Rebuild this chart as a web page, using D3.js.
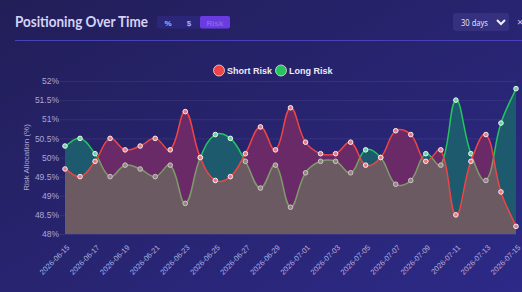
<!DOCTYPE html>
<html><head><meta charset="utf-8">
<script src="https://cdn.jsdelivr.net/npm/d3@7"></script>
<style>
html,body{margin:0;padding:0;overflow:hidden;background:#25215f;}
svg{display:block;}
</style></head>
<body>
<svg id="c" width="522" height="292"></svg>
<script>
const dates = ["2026-06-15","2026-06-16","2026-06-17","2026-06-18","2026-06-19","2026-06-20","2026-06-21","2026-06-22","2026-06-23","2026-06-24","2026-06-25","2026-06-26","2026-06-27","2026-06-28","2026-06-29","2026-06-30","2026-07-01","2026-07-02","2026-07-03","2026-07-04","2026-07-05","2026-07-06","2026-07-07","2026-07-08","2026-07-09","2026-07-10","2026-07-11","2026-07-12","2026-07-13","2026-07-14","2026-07-15"];
const shortRisk = [49.7,49.5,49.9,50.5,50.2,50.3,50.5,50.2,51.2,50.0,49.4,49.5,50.1,50.8,50.2,51.3,50.4,50.1,50.1,50.4,49.8,50.0,50.7,50.6,49.9,50.2,48.5,49.9,50.6,49.1,48.2];
const longRisk  = [50.3,50.5,50.1,49.5,49.8,49.7,49.5,49.8,48.8,50.0,50.6,50.5,49.9,49.2,49.8,48.7,49.6,49.9,49.9,49.6,50.2,50.0,49.3,49.4,50.1,49.8,51.5,50.1,49.4,50.9,51.8];
const yTicks = [48,48.5,49,49.5,50,50.5,51,51.5,52];
const xTickLabels = dates.filter((d,i)=>i%2===0);
const seriesNames = ["Short Risk","Long Risk"];
const seriesColors = ["#ef4444","#22c55e"];
const toggles = ["%","$","Risk"];

(function(){
const svg = d3.select("#c");
const W=522,H=292;
const defs = svg.append("defs");
const bg = defs.append("linearGradient").attr("id","bg").attr("x1","0").attr("y1","0").attr("x2","1").attr("y2","1");
bg.append("stop").attr("offset","0").attr("stop-color","#221e58");
bg.append("stop").attr("offset","1").attr("stop-color","#2d2a88");
svg.append("rect").attr("width",W).attr("height",H).attr("fill","url(#bg)");

// header
svg.append("text").attr("x",15).attr("y",27).text("Positioning Over Time")
  .attr("font-family","Lato, 'Open Sans', sans-serif").attr("font-weight",700).attr("font-size",15)
  .attr("textLength",133).attr("lengthAdjust","spacingAndGlyphs")
  .attr("fill","#d6d2f5");
svg.append("rect").attr("x",157).attr("y",16).attr("width",73).attr("height",12.5).attr("rx",2).attr("fill","#2b2678");
svg.append("rect").attr("x",200).attr("y",16).attr("width",30).attr("height",12.5).attr("rx",2).attr("fill","#6a3be0");
const tgX=[168,189,215];
toggles.forEach((t,i)=>{
  svg.append("text").attr("x",tgX[i]).attr("y",25.5).attr("text-anchor","middle").text(t)
    .attr("font-family","'Liberation Sans', Arial, sans-serif").attr("font-size",8).attr("font-weight",700)
    .attr("fill", i===2?"#8466ea":"#b4aee6");
});
svg.append("rect").attr("x",453).attr("y",13).attr("width",56).attr("height",18).attr("rx",3).attr("fill","#36317f");
svg.append("text").attr("x",461).attr("y",25.5).text("30 days").attr("font-family","'Open Sans', sans-serif").attr("font-size",9)
  .attr("textLength",27).attr("lengthAdjust","spacingAndGlyphs").attr("fill","#e8e6fa");
svg.append("path").attr("d","M497,20 L501,24 L505,20").attr("fill","none").attr("stroke","#f0eefc").attr("stroke-width",2);
svg.append("text").attr("x",517).attr("y",26).text("×").attr("font-family","'Open Sans', sans-serif").attr("font-size",11).attr("fill","#c8c4f0");
svg.append("line").attr("x1",15).attr("x2",W).attr("y1",40.5).attr("y2",40.5).attr("stroke","#4842b8").attr("stroke-width",1);

// scales
const x = d3.scalePoint().domain(dates).range([65,516]);
const y = d3.scaleLinear().domain([48,52]).range([234,81]);
const yTop=81,yBot=234;

// grid
svg.append("g").selectAll("line").data(yTicks).join("line")
  .attr("x1",60).attr("x2",516).attr("y1",d=>y(d)+0.5).attr("y2",d=>y(d)+0.5)
  .attr("stroke","rgba(255,255,255,0.07)");

// y axis
const yAxis = svg.append("g").attr("transform","translate(59,0)")
  .call(d3.axisLeft(y).tickValues(yTicks).tickSize(0).tickPadding(0).tickFormat(d=>d+"%"));
yAxis.select(".domain").remove();
yAxis.selectAll("text").attr("font-family","'Liberation Sans', Arial, sans-serif").attr("font-size",8.5).attr("fill","#aba7d8");
svg.append("text").attr("transform","translate(29,157.5) rotate(-90)").attr("text-anchor","middle")
  .text("Risk Allocation (%)").attr("font-family","'Liberation Sans', Arial, sans-serif").attr("font-size",8).attr("fill","#aba7d8");

// x axis
const xAxis = svg.append("g").attr("transform",`translate(0,${yBot})`)
  .call(d3.axisBottom(x).tickValues(xTickLabels).tickSize(0).tickPadding(0));
xAxis.select(".domain").remove();
xAxis.selectAll("text").attr("font-family","'Liberation Sans', Arial, sans-serif").attr("font-size",7.5).attr("fill","#b3afdc")
  .attr("text-anchor","end").attr("y",0).attr("dy","0").attr("transform","translate(4.5,14) rotate(-45)");

// spline (Chart.js-like, tension 0.4)
function spline(pts,t){
  const cps = pts.map((p,i)=>{
    const pr = pts[i-1]||p, nx = pts[i+1]||p;
    const d01=Math.hypot(p[0]-pr[0],p[1]-pr[1]), d12=Math.hypot(nx[0]-p[0],nx[1]-p[1]);
    let s01=d01/(d01+d12), s12=d12/(d01+d12);
    if(!isFinite(s01)) s01=0; if(!isFinite(s12)) s12=0;
    const fa=t*s01, fb=t*s12;
    const cap=v=>Math.max(yTop,Math.min(yBot,v));
    return {p:[p[0]-fa*(nx[0]-pr[0]), cap(p[1]-fa*(nx[1]-pr[1]))], n:[p[0]+fb*(nx[0]-pr[0]), cap(p[1]+fb*(nx[1]-pr[1]))]};
  });
  let d="M"+pts[0].join(",");
  for(let i=1;i<pts.length;i++) d+="C"+cps[i-1].n.join(",")+" "+cps[i].p.join(",")+" "+pts[i].join(",");
  return d;
}
const sPts = dates.map((d,i)=>[x(d),y(shortRisk[i])]);
const lPts = dates.map((d,i)=>[x(d),y(longRisk[i])]);
const sLine = spline(sPts,0.4), lLine = spline(lPts,0.4);
const close = `L${x(dates[dates.length-1])},${yBot}L${x(dates[0])},${yBot}Z`;
defs.append("clipPath").attr("id","clipS").append("path").attr("d",sLine+close);
const mk = defs.append("mask").attr("id","outS").attr("maskUnits","userSpaceOnUse").attr("x",0).attr("y",0).attr("width",W).attr("height",H);
mk.append("rect").attr("width",W).attr("height",H).attr("fill","#fff");
mk.append("path").attr("d",sLine+close).attr("fill","#000");

svg.append("path").attr("d",sLine+close).attr("fill","#6a2a68");
svg.append("path").attr("d",lLine+close).attr("fill","#1d5a6e");
svg.append("path").attr("d",lLine+close).attr("fill","#6b5a62").attr("clip-path","url(#clipS)");

// long line: bright outside short area, muted inside (covered by short fill)
svg.append("path").attr("d",lLine).attr("fill","none").attr("stroke",seriesColors[1]).attr("stroke-width",1.5).attr("mask","url(#outS)");
svg.append("path").attr("d",lLine).attr("fill","none").attr("stroke","#7f9a6a").attr("stroke-width",1.5).attr("clip-path","url(#clipS)");
const gOut = svg.append("g").attr("mask","url(#outS)");
gOut.selectAll("circle").data(lPts).join("circle")
  .attr("cx",d=>d[0]).attr("cy",d=>d[1]).attr("r",2.3)
  .attr("fill","#6fd0a8").attr("stroke","#eef6f2").attr("stroke-width",1);
const gIn = svg.append("g").attr("clip-path","url(#clipS)");
gIn.selectAll("circle").data(lPts).join("circle")
  .attr("cx",d=>d[0]).attr("cy",d=>d[1]).attr("r",2.3)
  .attr("fill","#8e8a80").attr("stroke","#cfc2c6").attr("stroke-width",1);

svg.append("path").attr("d",sLine).attr("fill","none").attr("stroke",seriesColors[0]).attr("stroke-width",1.5);
svg.append("g").selectAll("circle").data(sPts).join("circle")
  .attr("cx",d=>d[0]).attr("cy",d=>d[1]).attr("r",2.3)
  .attr("fill","#e87a86").attr("stroke","#f4eef2").attr("stroke-width",1);

// legend
const lgX=[219,281];
seriesNames.forEach((n,i)=>{
  svg.append("circle").attr("cx",lgX[i]).attr("cy",70.5).attr("r",5.5).attr("fill",seriesColors[i]).attr("stroke","#f0d8e0").attr("stroke-width",0.8);
  svg.append("text").attr("x",lgX[i]+8).attr("y",73.5).text(n)
    .attr("font-family","'Liberation Sans', Arial, sans-serif").attr("font-weight",700).attr("font-size",9).attr("fill","#eceaf8");
});
})();
</script>
</body></html>
